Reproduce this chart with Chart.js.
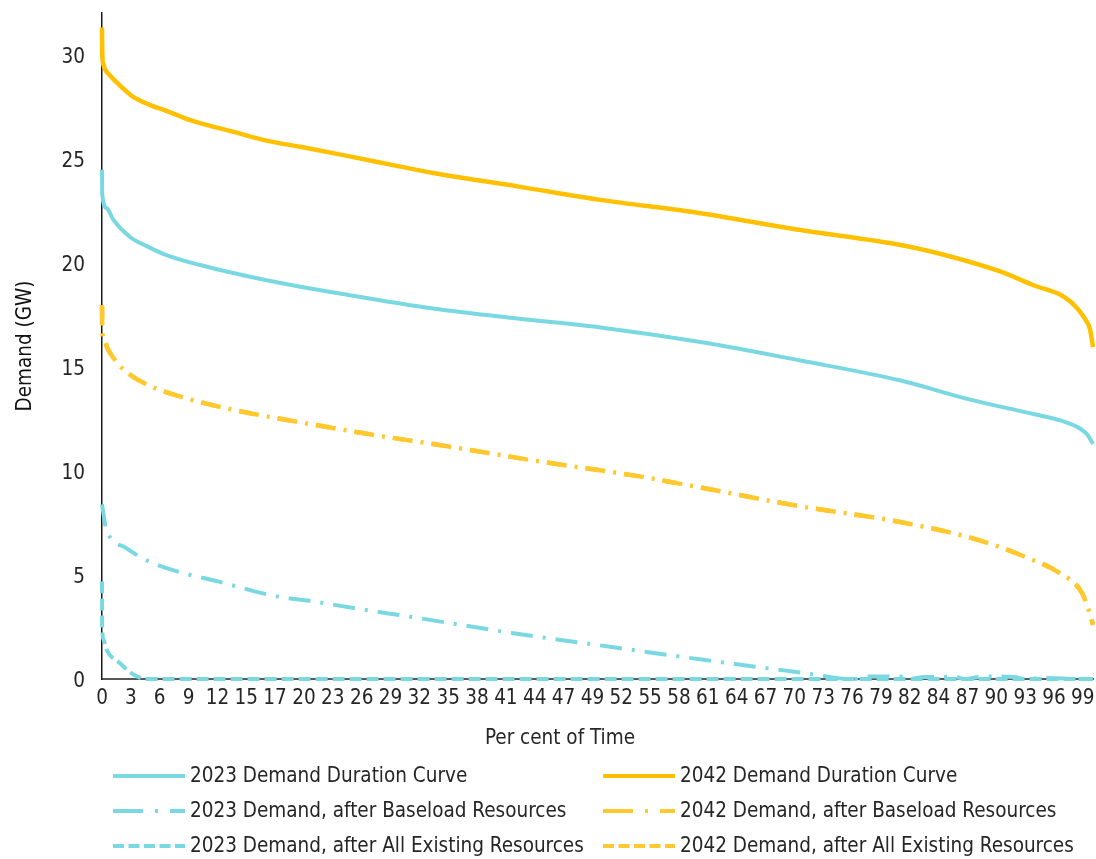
<!DOCTYPE html>
<html lang="en">
<head>
  <meta charset="UTF-8">
  <title>Demand Duration Curves</title>
  <script src="https://cdn.jsdelivr.net/npm/chart.js"></script>
  <style>
    body { margin: 0; background: #fff; }
    .chart-box { width: 1096px; height: 859px; position: relative; }
  </style>
</head>
<body>
  <div class="chart-box"><canvas id="durationChart"></canvas></div>

  <script>
    // x axis labels (rounded per cent of time, one label every ~2.91 %)
    const xTickLabels = [0, 3, 6, 9, 12, 15, 17, 20, 23, 26, 29, 32, 35, 38, 41, 44, 47, 49,
      52, 55, 58, 61, 64, 67, 70, 73, 76, 79, 82, 84, 87, 90, 93, 96, 99];
    const xTickStep = 2.911;
    const yTickValues = [0, 5, 10, 15, 20, 25, 30];

    // 2023 Demand Duration Curve
    const pct2023Duration = [0, 0.02, 0.47, 1.15, 2.8, 4.5, 6.5, 9.9, 16.6, 25, 33.4, 41.9, 50.3,
      60.4, 70.5, 80.6, 87.3, 94, 96.8, 98.8, 99.5, 100];
    const gw2023Duration = [24.47, 23.3, 22.62, 22.06, 21.25, 20.8, 20.37, 19.89, 19.16, 18.44, 17.8, 17.32, 16.89,
      16.19, 15.3, 14.34, 13.46, 12.73, 12.41, 12.0, 11.7, 11.29];

    // 2042 Demand Duration Curve
    const pct2042Duration = [0, 0.03, 0.1, 0.3, 0.8, 1.3, 2.3, 3.1, 5, 6.5, 8.9, 10, 13.2, 16.6, 20, 25, 30,
      33.4, 41.9, 50.3, 60.4, 70.5, 80.6, 85.7, 90.7, 94, 96.8, 97.8, 98.6, 99.2, 99.7, 100];
    const gw2042Duration = [31.3, 30.0, 29.6, 29.3, 29.0, 28.75, 28.3, 27.98, 27.55, 27.3, 26.85, 26.7, 26.3, 25.87, 25.57, 25.11, 24.63,
      24.31, 23.67, 23.02, 22.38, 21.57, 20.85, 20.29, 19.57, 18.92, 18.44, 18.1, 17.7, 17.3, 16.8, 15.95];

    // 2023 Demand, after Baseload Resources
    const pct2023Baseload = [0, 0.4, 2.4, 4.7, 7.5, 11.6, 17.6, 21, 25.4, 31.9, 41.5, 51.1, 60.7, 67.1, 72.3,
      74.5, 76, 77, 80.5, 81.5, 83, 86, 87, 89, 92, 93, 95, 97, 98, 100];
    const gw2023Baseload = [8.39, 7.27, 6.3, 5.66, 5.18, 4.7, 3.97, 3.75, 3.41, 2.93, 2.2, 1.56, 0.92, 0.52, 0.19,
      0.03, 0, 0.12, 0.12, 0, 0.1, 0.1, 0, 0.12, 0.1, 0, 0.05, 0.03, 0, 0];

    // 2042 Demand, after Baseload Resources
    const pct2042Baseload = [0, 0.03, 0.25, 0.57, 1.2, 2.1, 4.4, 8.7, 13.7, 19.1, 26.9, 34.6, 44.2, 53.9, 60.4, 70.3,
      80, 88.3, 93.4, 96.6, 98.9, 99.5, 100];
    const gw2042Baseload = [17.96, 16.67, 16.25, 15.87, 15.4, 14.9, 14.18, 13.46, 12.89, 12.41, 11.77, 11.2, 10.45, 9.76, 9.2, 8.31,
      7.59, 6.7, 5.82, 5.1, 4.13, 3.4, 2.6];

    // 2023 Demand, after All Existing Resources
    const pct2023Existing = [0, 0.02, 0.15, 0.47, 1.8, 3.0, 4.0, 4.3, 100];
    const gw2023Existing = [4.69, 2.52, 1.9, 1.4, 0.76, 0.27, 0.03, 0, 0];

    // 2042 Demand, after All Existing Resources (sits on top of the baseload curve)
    const pct2042Existing = [0, 0.03, 0.25, 0.57, 1.2, 2.1, 4.4, 8.7, 13.7, 19.1, 26.9, 34.6, 44.2, 53.9, 60.4, 70.3,
      80, 88.3, 93.4, 96.6, 98.9, 99.5, 100];
    const gw2042Existing = [17.96, 16.67, 16.25, 15.87, 15.4, 14.9, 14.18, 13.46, 12.89, 12.41, 11.77, 11.2, 10.45, 9.76, 9.2, 8.31,
      7.59, 6.7, 5.82, 5.1, 4.13, 3.4, 2.6];

    const cyan = '#7ad8e2';
    const gold = '#ffc000';
    const goldLight = '#ffc82e';
    const fontFamily = '"DejaVu Sans Condensed", "DejaVu Sans", sans-serif';
    const textColor = '#262626';

    function toPoints(xs, ys) {
      return xs.map((x, i) => ({ x: x, y: ys[i] }));
    }

    function line(label, xs, ys, color, width, dash, legendDash) {
      return {
        label: label,
        data: toPoints(xs, ys),
        borderColor: color,
        borderWidth: width,
        borderDash: dash,
        legendDash: legendDash,
        pointRadius: 0,
        cubicInterpolationMode: 'monotone',
        clip: false,
        fill: false
      };
    }

    // legend is laid out as a 2 x 3 grid under the axis title, like the original
    const gridLegend = {
      id: 'gridLegend',
      afterDraw(chart) {
        const ctx = chart.ctx;
        ctx.save();
        ctx.font = '20.5px ' + fontFamily;
        ctx.fillStyle = textColor;
        ctx.textBaseline = 'middle';
        ctx.textAlign = 'center';
        ctx.fillText('Per cent of Time', 560, 739);
        ctx.textAlign = 'left';
        chart.data.datasets.forEach((ds, i) => {
          const x = 113 + (i % 2) * 490;
          const y = 776 + Math.floor(i / 2) * 35;
          ctx.beginPath();
          ctx.strokeStyle = ds.borderColor;
          ctx.lineWidth = 4;
          ctx.setLineDash(ds.legendDash);
          ctx.moveTo(x, y);
          ctx.lineTo(x + 72, y);
          ctx.stroke();
          ctx.setLineDash([]);
          ctx.fillText(ds.label, x + 77, y + 1);
        });
        ctx.restore();
      }
    };

    const ctx = document.getElementById('durationChart').getContext('2d');
    const durationChart = new Chart(ctx, {
      type: 'line',
      data: {
        datasets: [
          line('2023 Demand Duration Curve', pct2023Duration, gw2023Duration, cyan, 4, [], []),
          line('2042 Demand Duration Curve', pct2042Duration, gw2042Duration, gold, 4.5, [], []),
          line('2023 Demand, after Baseload Resources', pct2023Baseload, gw2023Baseload, cyan, 4, [22, 10, 3, 10], [30, 12, 3, 12]),
          line('2042 Demand, after Baseload Resources', pct2042Baseload, gw2042Baseload, goldLight, 4.5, [20, 8, 3, 8], [30, 12, 3, 12]),
          line('2023 Demand, after All Existing Resources', pct2023Existing, gw2023Existing, cyan, 4, [12, 5], [11, 4.5]),
          line('2042 Demand, after All Existing Resources', pct2042Existing, gw2042Existing, goldLight, 4.5, [13, 26], [11, 4.5])
        ]
      },
      options: {
        responsive: true,
        maintainAspectRatio: false,
        animation: false,
        layout: { padding: { top: 13, right: 3, left: 0, bottom: 0 } },
        plugins: {
          legend: { display: false },
          tooltip: { enabled: false }
        },
        scales: {
          x: {
            type: 'linear',
            min: 0,
            max: 100,
            afterBuildTicks: (scale) => {
              scale.ticks = xTickLabels.map((t, i) => ({ value: i * xTickStep }));
            },
            afterFit: (scale) => {
              scale.height = 180;
              scale.paddingLeft = 0;
              scale.paddingRight = 0;
            },
            grid: { display: false, drawTicks: false },
            border: { display: true, color: '#595959', width: 2 },
            ticks: {
              autoSkip: false,
              maxRotation: 0,
              padding: 7,
              color: textColor,
              font: { family: fontFamily, size: 20.5 },
              callback: (value, index) => xTickLabels[index]
            }
          },
          y: {
            min: 0,
            max: 32,
            afterBuildTicks: (scale) => {
              scale.ticks = yTickValues.map(v => ({ value: v }));
            },
            afterFit: (scale) => {
              scale.width = 102;
              scale.paddingTop = 0;
              scale.paddingBottom = 0;
            },
            grid: { display: false, drawTicks: false },
            border: { display: true, color: '#1a1a1a', width: 1.5 },
            ticks: {
              padding: 17,
              labelOffset: 3,
              color: textColor,
              font: { family: fontFamily, size: 20.5 }
            },
            title: {
              display: true,
              text: 'Demand (GW)',
              color: '#111',
              padding: { top: 13, bottom: 0 },
              font: { family: fontFamily, size: 20.5 }
            }
          }
        }
      },
      plugins: [gridLegend]
    });
  </script>
</body>
</html>
